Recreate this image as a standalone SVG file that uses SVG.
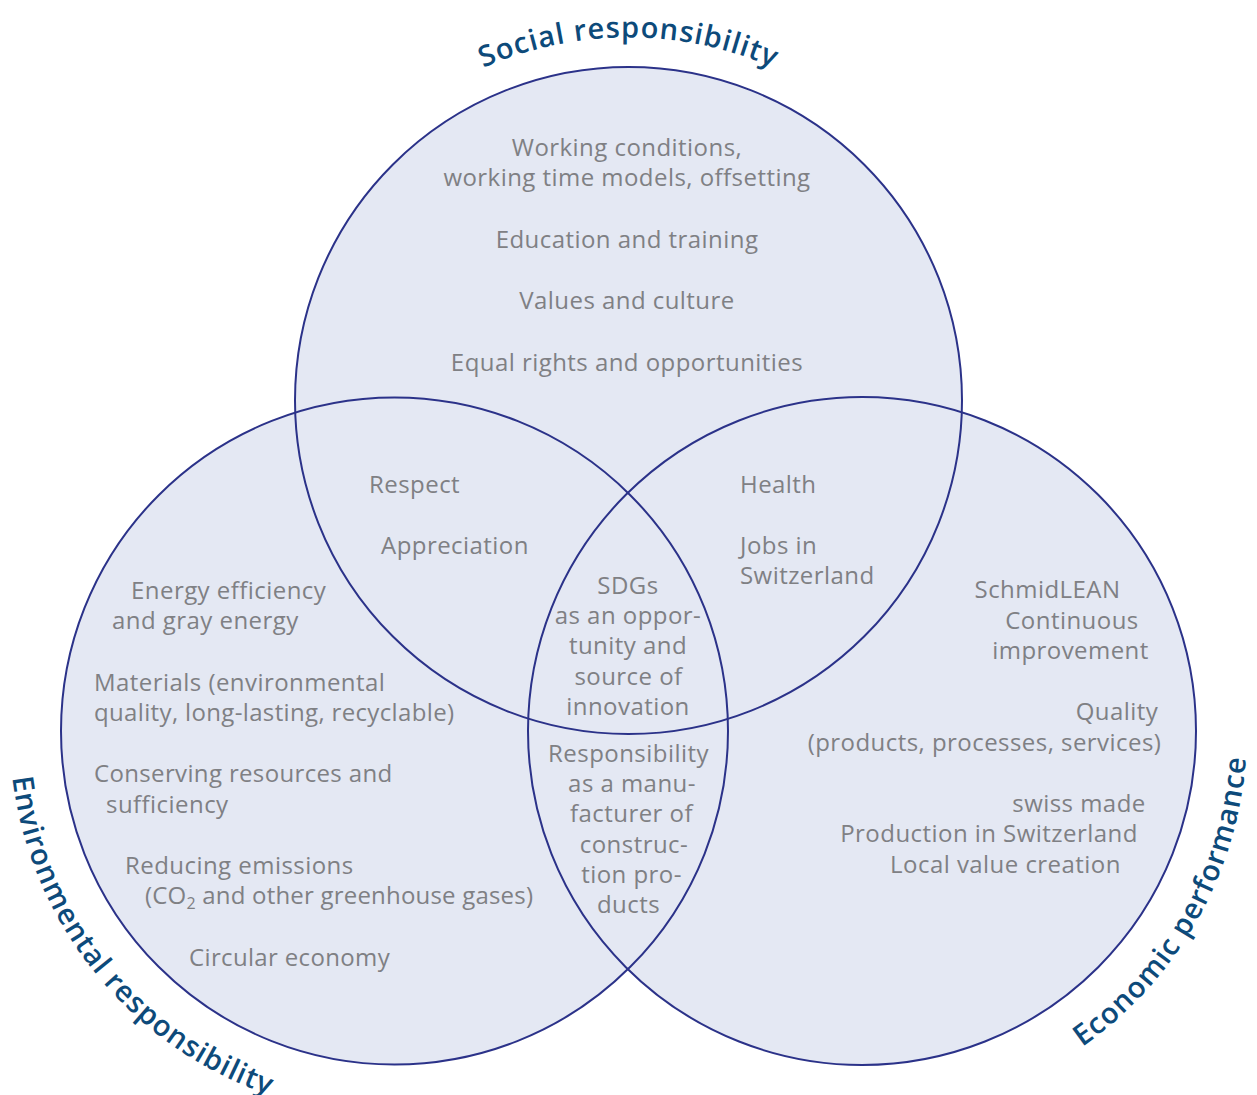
<svg xmlns="http://www.w3.org/2000/svg" width="1257" height="1095" viewBox="0 0 1257 1095">
<style>
.fill{fill:#e4e8f3;stroke:none}
.ring{fill:none;stroke:#2b3289;stroke-width:2}
.t{font-family:"Open Sans","Noto Sans","DejaVu Sans",sans-serif;font-size:24px;letter-spacing:0.45px;fill:#7f8084}
.m{text-anchor:middle}
.lab{font-family:"Open Sans","Noto Sans","DejaVu Sans",sans-serif;font-size:29px;letter-spacing:1px;font-weight:600;fill:#0d4a7a}
</style>
<defs>
<path id="pSocial" d="M 287.4 276.3 A 363 363 0 0 1 969.6 276.3"/>
<path id="pEnv" d="M 35.1 593.0 A 385 385 0 0 0 454.7 1111.3"/>
<path id="pEco" d="M 865.4 1116.0 A 385 385 0 0 0 1193.7 535.6"/>
</defs>
<rect width="1257" height="1095" fill="#ffffff"/>
<g id="fills">
<circle class="fill" cx="628.5" cy="400.5" r="333.5"/>
<circle class="fill" cx="394.5" cy="731" r="333.5"/>
<circle class="fill" cx="862" cy="731" r="334"/>
</g>
<g id="social">
<circle class="ring" cx="628.5" cy="400.5" r="333.5"/>
<text class="lab"><textPath href="#pSocial" startOffset="50%" text-anchor="middle">Social responsibility</textPath></text>
<text class="t m" x="627" y="156">Working conditions,</text>
<text class="t m" x="627" y="186">working time models, offsetting</text>
<text class="t m" x="627" y="248">Education and training</text>
<text class="t m" x="627" y="309">Values and culture</text>
<text class="t m" x="627" y="371">Equal rights and opportunities</text>
</g>
<g id="environmental">
<circle class="ring" cx="394.5" cy="731" r="333.5"/>
<text class="lab"><textPath href="#pEnv" startOffset="50%" text-anchor="middle">Environmental responsibility</textPath></text>
<text class="t" x="131" y="599">Energy efficiency</text>
<text class="t" x="112" y="629">and gray energy</text>
<text class="t" x="94" y="691">Materials (environmental</text>
<text class="t" x="94" y="721" style="letter-spacing:0.35px">quality, long-lasting, recyclable)</text>
<text class="t" x="94" y="782" style="letter-spacing:0.35px">Conserving resources and</text>
<text class="t" x="106" y="813">sufficiency</text>
<text class="t" x="125" y="874">Reducing emissions</text>
<text class="t" x="145" y="904" style="letter-spacing:0.2px">(CO<tspan font-size="16" dy="5">2</tspan><tspan dy="-5"> and other greenhouse gases)</tspan></text>
<text class="t" x="189" y="966" style="letter-spacing:0.35px">Circular economy</text>
</g>
<g id="economic">
<circle class="ring" cx="862" cy="731" r="334"/>
<text class="lab"><textPath href="#pEco" startOffset="50%" text-anchor="middle">Economic performance</textPath></text>
<text class="t m" x="1047.5" y="598">SchmidLEAN</text>
<text class="t m" x="1072" y="629">Continuous</text>
<text class="t m" x="1070.5" y="659">improvement</text>
<text class="t m" x="1117" y="720">Quality</text>
<text class="t m" x="984.5" y="751">(products, processes, services)</text>
<text class="t m" x="1079" y="812">swiss made</text>
<text class="t m" x="989" y="842">Production in Switzerland</text>
<text class="t m" x="1005.5" y="873">Local value creation</text>
</g>
<g id="social-environmental">
<text class="t" x="369" y="493">Respect</text>
<text class="t" x="381" y="554">Appreciation</text>
</g>
<g id="social-economic">
<text class="t" x="740" y="493">Health</text>
<text class="t" x="740" y="554">Jobs in</text>
<text class="t" x="740" y="584">Switzerland</text>
</g>
<g id="center">
<text class="t m" x="628" y="594">SDGs</text>
<text class="t m" x="628" y="624">as an oppor-</text>
<text class="t m" x="628" y="654">tunity and</text>
<text class="t m" x="628.5" y="685">source of</text>
<text class="t m" x="628" y="715">innovation</text>
</g>
<g id="environmental-economic">
<text class="t m" x="628.5" y="762">Responsibility</text>
<text class="t m" x="632" y="792">as a manu-</text>
<text class="t m" x="631.5" y="822">facturer of</text>
<text class="t m" x="634" y="853">construc-</text>
<text class="t m" x="631.5" y="883">tion pro-</text>
<text class="t m" x="628.5" y="913">ducts</text>
</g>
<g id="connectors"></g>
</svg>
